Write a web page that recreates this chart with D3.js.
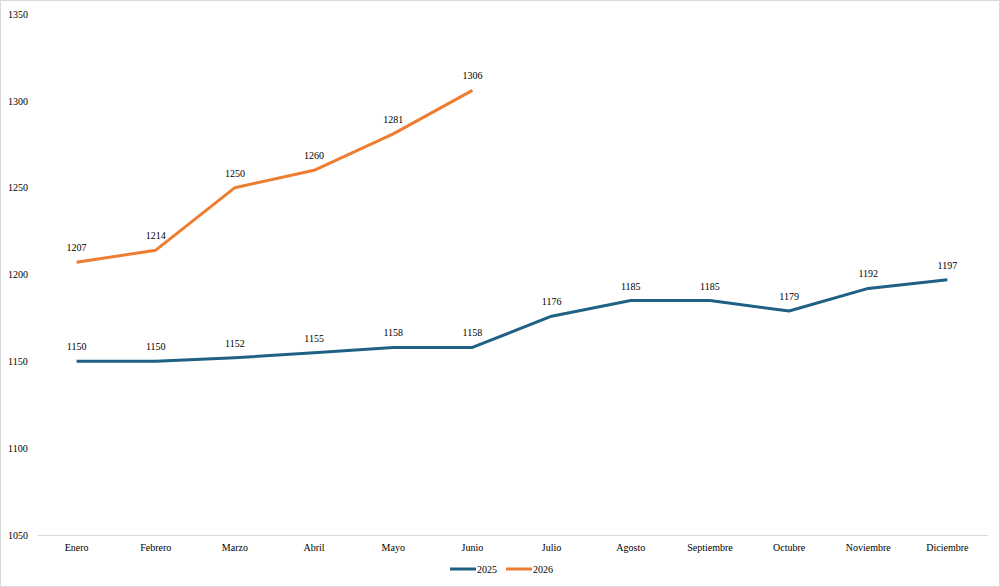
<!DOCTYPE html>
<html>
<head>
<meta charset="utf-8">
<script src="https://cdn.jsdelivr.net/npm/d3@7"></script>
<style>
  body { margin: 0; background: #fff; }
  svg text { font-family: "Liberation Serif", "Times New Roman", "DejaVu Serif", serif !important; }
</style>
</head>
<body>
<div class="grafico"></div>
<script>
const width = 1000, height = 587;

const meses = ["Enero", "Febrero", "Marzo", "Abril", "Mayo", "Junio", "Julio",
    "Agosto", "Septiembre", "Octubre", "Noviembre", "Diciembre"];
const serie2025 = [1150, 1150, 1152, 1155, 1158, 1158, 1176, 1185, 1185, 1179, 1192, 1197];
const serie2026 = [1207, 1214, 1250, 1260, 1281, 1306];
const ticksY = [1050, 1100, 1150, 1200, 1250, 1300, 1350];

const series = [
    { key: "2025", values: serie2025, color: "#1f6185" },
    { key: "2026", values: serie2026, color: "#ed7d31" }
];

const margin = { top: 14, right: 13, bottom: 52, left: 37 };
const fs = 10;

const svg = d3.select(".grafico")
    .append("svg")
    .attr("width", width)
    .attr("height", height);

// borde exterior
svg.append("rect")
    .attr("x", 0.5).attr("y", 0.5)
    .attr("width", width - 1).attr("height", height - 1)
    .attr("fill", "none")
    .attr("stroke", "#d9d9d9");

const x = d3.scaleBand()
    .domain(meses)
    .range([margin.left, width - margin.right]);

const y = d3.scaleLinear()
    .domain([1050, 1350])
    .range([height - margin.bottom, margin.top]);

const cx = (d, i) => x(meses[i]) + x.bandwidth() / 2;

// eje Y (solo etiquetas, alineadas a la izquierda)
const yAxis = svg.append("g")
    .attr("transform", "translate(8, 0)")
    .call(d3.axisLeft(y).tickValues(ticksY).tickFormat(d3.format("d")).tickSize(0).tickPadding(0));
yAxis.select(".domain").remove();
yAxis.selectAll("text")
    .attr("text-anchor", "start")
    .attr("x", 0)
    .attr("font-size", fs)
    .attr("fill", "#000");

// eje X
const xAxis = svg.append("g")
    .attr("transform", `translate(0, ${y(1050)})`)
    .call(d3.axisBottom(x).tickSize(0).tickPadding(9));
xAxis.select(".domain").attr("stroke", "#d9d9d9");
xAxis.selectAll("text")
    .attr("font-size", fs)
    .attr("fill", "#000");

const line = d3.line()
    .x(cx)
    .y(d => y(d));

series.forEach(s => {
    svg.append("path")
        .datum(s.values)
        .attr("fill", "none")
        .attr("stroke", s.color)
        .attr("stroke-width", 3)
        .attr("stroke-linejoin", "round")
        .attr("d", line);

    svg.append("g")
        .selectAll("text")
        .data(s.values)
        .enter().append("text")
        .attr("x", cx)
        .attr("y", d => y(d) - 11)
        .attr("text-anchor", "middle")
        .attr("font-size", fs)
        .attr("fill", "#000")
        .text(d => d);
});

// leyenda
const legend = svg.append("g")
    .attr("transform", "translate(450, 569)");
series.forEach((s, i) => {
    const g = legend.append("g").attr("transform", `translate(${i * 56}, 0)`);
    g.append("line")
        .attr("x1", 0).attr("x2", 26)
        .attr("y1", 0).attr("y2", 0)
        .attr("stroke", s.color)
        .attr("stroke-width", 3);
    g.append("text")
        .attr("x", 27)
        .attr("y", 4)
        .attr("font-size", fs)
        .attr("fill", "#000")
        .text(s.key);
});
</script>
</body>
</html>
